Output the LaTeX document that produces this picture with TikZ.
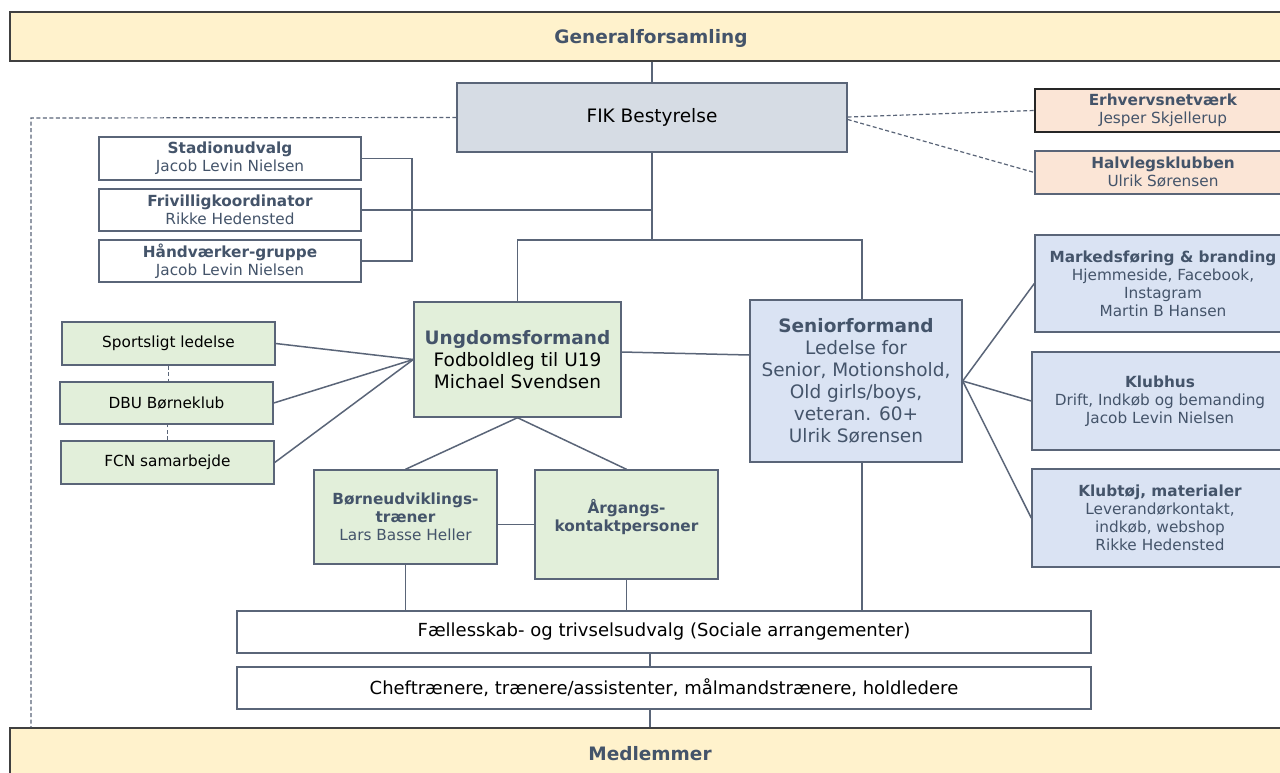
\documentclass[tikz,border=0pt]{standalone}
\usepackage{fontspec}
\setmainfont{DejaVu Sans}
\definecolor{slate}{HTML}{44546A}
\definecolor{lc}{HTML}{5A6578}
\definecolor{yel}{HTML}{FFF2CC}
\definecolor{fikc}{HTML}{D6DCE4}
\definecolor{peach}{HTML}{FBE5D6}
\definecolor{grn}{HTML}{E2EFDA}
\definecolor{blu}{HTML}{DAE3F3}
\newcommand{\sm}{\fontsize{15.3}{18}\selectfont}
\newcommand{\bg}{\fontsize{18.5}{22}\selectfont}
\newcommand{\md}{\fontsize{18}{21}\selectfont}
\tikzset{
  box/.style={draw=lc, line width=1.4pt, inner sep=0pt, align=center},
  conn/.style={draw=lc, line width=1.5pt},
  dconn/.style={draw=lc, line width=1.2pt, dashed, dash pattern=on 4pt off 2.5pt},
  txt/.style={inner sep=0pt, align=center}
}
\begin{document}
\begin{tikzpicture}[x=1pt,y=-1pt]
\clip (0,0) rectangle (1280,772);
\fill[white] (0,0) rectangle (1280,772);
% boxes
\node[box, draw=black!75, fill=yel, minimum width=1280, minimum height=49] (gen) at (650,36.5) {};
\node[txt, text=slate, font=\bg\bfseries] (gent) at (651,38.5) {Generalforsamling};
\node[box, fill=fikc, minimum width=390, minimum height=69, font=\bg] (fik) at (652,117.5) {FIK Bestyrelse};
\node[box, draw=black!85, fill=peach, minimum width=256, minimum height=43, text=slate, font=\sm] (erh) at (1163,110.5) {\textbf{Erhvervsnetværk}\\Jesper Skjellerup};
\node[box, fill=peach, minimum width=256, minimum height=43, text=slate, font=\sm] (halv) at (1163,172.5) {\textbf{Halvlegsklubben}\\Ulrik Sørensen};
\node[box, fill=white, minimum width=262, minimum height=43, text=slate, font=\sm] (stad) at (230,158.5) {\textbf{Stadionudvalg}\\Jacob Levin Nielsen};
\node[box, fill=white, minimum width=262, minimum height=42, text=slate, font=\sm] (friv) at (230,210) {\textbf{Frivilligkoordinator}\\Rikke Hedensted};
\node[box, fill=white, minimum width=262, minimum height=42, text=slate, font=\sm] (hand) at (230,261) {\textbf{Håndværker-gruppe}\\Jacob Levin Nielsen};
\node[box, fill=grn, minimum width=207, minimum height=115, font=\bg] (ung) at (517.5,359.5) {\textcolor{slate}{\textbf{Ungdomsformand}}\\Fodboldleg til U19\\Michael Svendsen};
\node[box, fill=blu, minimum width=212, minimum height=162, text=slate, font=\bg] (sen) at (856,381) {\textbf{Seniorformand}\\Ledelse for\\Senior, Motionshold,\\Old girls/boys,\\veteran. 60+\\Ulrik Sørensen};
\node[box, fill=grn, minimum width=213, minimum height=43, font=\sm] (sport) at (168.5,343.5) {Sportsligt ledelse};
\node[box, fill=grn, minimum width=213, minimum height=42, font=\sm] (dbu) at (166.5,403) {DBU Børneklub};
\node[box, fill=grn, minimum width=213, minimum height=43, font=\sm] (fcn) at (167.5,462.5) {FCN samarbejde};
\node[box, fill=grn, minimum width=183, minimum height=94, text=slate, font=\sm] (born) at (405.5,517) {\textbf{Børneudviklings-}\\\textbf{træner}\\Lars Basse Heller};
\node[box, fill=grn, minimum width=183, minimum height=109] (arg) at (626.5,524.5) {};
\node[txt, text=slate, font=\sm\bfseries] (argt) at (626.5,517) {Årgangs-\\kontaktpersoner};
\node[box, fill=white, minimum width=854, minimum height=42, font=\md] (fael) at (664,632) {Fællesskab- og trivselsudvalg (Sociale arrangementer)};
\node[box, fill=white, minimum width=854, minimum height=42, font=\md] (chef) at (664,688) {Cheftrænere, trænere/assistenter, målmandstrænere, holdledere};
\node[box, draw=black!75, fill=yel, minimum width=1280, minimum height=52, text=slate, font=\bg\bfseries] (med) at (650,754) {Medlemmer};
\node[box, fill=blu, minimum width=256, minimum height=97, text=slate, font=\sm] (mark) at (1163,283.5) {\textbf{Markedsføring \& branding}\\Hjemmeside, Facebook,\\Instagram\\Martin B Hansen};
\node[box, fill=blu, minimum width=256, minimum height=98, text=slate, font=\sm] (klub) at (1160,401) {\textbf{Klubhus}\\Drift, Indkøb og bemanding\\Jacob Levin Nielsen};
\node[box, fill=blu, minimum width=256, minimum height=98, text=slate, font=\sm] (toej) at (1160,518) {\textbf{Klubtøj, materialer}\\Leverandørkontakt,\\indkøb, webshop\\Rikke Hedensted};
% coordinates
\coordinate (dcorner) at (31,118);
\coordinate (br) at (412,210);
\coordinate (hub) at (652,240);
\coordinate (sj) at (862,240);
% connectors
\draw[conn] (fik.north |- gen.south) -- (fik.north);
\draw[dconn] (fik.west) -- (dcorner) -- (dcorner |- med.north);
\draw[dconn] ([yshift=0.5]fik.east) -- (erh.west);
\draw[dconn] ([yshift=-2]fik.east) -- (halv.west);
\draw[conn] (stad.east) -| (br) |- (hand.east);
\draw[conn] (friv.east) -- (friv.east -| hub);
\draw[conn] (fik.south -| hub) -- (hub);
\draw[conn] (ung.north) |- (sj) -- (sj |- sen.north);
\draw[conn] ([yshift=7.5]ung.east) -- ([yshift=26]sen.west);
\draw[conn] (sport.east) -- (ung.west);
\draw[conn] (dbu.east) -- (ung.west);
\draw[conn] (fcn.east) -- (ung.west);
\draw[dconn] (sport.south) -- (sport.south |- dbu.north);
\draw[dconn] (fcn.north) -- (fcn.north |- dbu.south);
\draw[conn] (ung.south) -- (born.north);
\draw[conn] (ung.south) -- (arg.north);
\draw[conn] (arg.west) -- (arg.west -| born.east);
\draw[conn] (born.south) -- (born.south |- fael.north);
\draw[conn] (arg.south) -- (arg.south |- fael.north);
\draw[conn] (sj |- sen.south) -- (sj |- fael.north);
\draw[conn] (med.north |- fael.south) -- (med.north |- chef.north);
\draw[conn] (med.north |- chef.south) -- (med.north);
\draw[conn] (sen.east) -- (mark.west);
\draw[conn] (sen.east) -- (klub.west);
\draw[conn] (sen.east) -- (toej.west);
\end{tikzpicture}
\end{document}
